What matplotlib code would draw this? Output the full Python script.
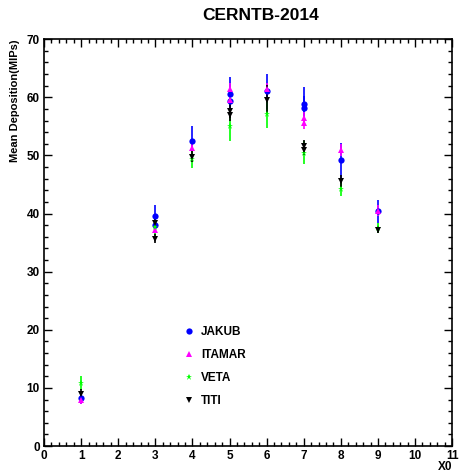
import matplotlib.pyplot as plt
from matplotlib.lines import Line2D
from matplotlib.ticker import MultipleLocator

plt.rcParams['font.family'] = ['Liberation Sans', 'DejaVu Sans']
plt.rcParams['font.weight'] = 'bold'

jakub_x = [1, 3, 3, 4, 5, 5, 6, 7, 7, 8, 9]
jakub_y = [8.2, 39.5, 38.1, 52.5, 60.5, 59.3, 61.0, 58.8, 58.2, 49.2, 40.4]
jakub_e = [1.0, 2.0, 1.0, 2.5, 3.0, 2.0, 3.0, 3.0, 2.0, 3.0, 2.0]

itamar_x = [1, 3, 4, 5, 5, 6, 7, 7, 8, 9]
itamar_y = [8.0, 37.2, 51.2, 61.5, 59.6, 61.4, 56.4, 55.6, 50.9, 40.5]
itamar_e = [0.8, 1.0, 1.0, 1.0, 1.0, 1.0, 1.0, 1.0, 1.0, 1.0]

veta_x = [1, 3, 4, 5, 6, 7, 8, 9]
veta_y = [10.9, 37.6, 49.4, 55.1, 57.1, 50.5, 44.2, 37.5]
veta_e = [1.2, 1.5, 1.5, 2.6, 2.4, 2.0, 1.2, 0.8]

titi_x = [1, 3, 3, 4, 5, 5, 6, 7, 7, 8, 9]
titi_y = [9.0, 38.3, 35.7, 49.8, 57.6, 57.0, 59.6, 51.6, 51.0, 45.6, 37.2]
titi_e = [0.8, 1.0, 0.8, 1.0, 1.2, 1.0, 2.5, 1.0, 1.0, 1.0, 0.6]

series = [
    ("JAKUB", jakub_x, jakub_y, jakub_e, "#0000ff", "o", 4.5),
    ("ITAMAR", itamar_x, itamar_y, itamar_e, "#ff00ff", "^", 4.5),
    ("VETA", veta_x, veta_y, veta_e, "#00ff00", "*", 5),
    ("TITI", titi_x, titi_y, titi_e, "#000000", "v", 4.5),
]

fig = plt.figure(figsize=(4.59, 4.72), dpi=100)
ax = fig.add_axes((0.096, 0.055, 0.889, 0.862))

handles = []
for name, xs, ys, es, col, mk, ms in series:
    ax.errorbar(xs, ys, yerr=es, fmt=mk, color=col, ecolor=col, elinewidth=1.2,
                capsize=0, markersize=ms, markeredgewidth=0)
    handles.append(Line2D([], [], linestyle='none', marker=mk, color=col,
                          markersize=ms, markeredgewidth=0, label=name))

ax.set_xlim(0, 11)
ax.set_ylim(0, 70)
ax.xaxis.set_major_locator(MultipleLocator(1))
ax.xaxis.set_minor_locator(MultipleLocator(0.2))
ax.yaxis.set_major_locator(MultipleLocator(10))
ax.yaxis.set_minor_locator(MultipleLocator(2))
ax.tick_params(which='both', direction='in', top=True, right=True, labelsize=8.5, pad=3)
ax.tick_params(which='major', length=6, width=1)
ax.tick_params(which='minor', length=3, width=1)
for lbl in ax.get_xticklabels() + ax.get_yticklabels():
    lbl.set_fontweight('bold')
for sp in ax.spines.values():
    sp.set_linewidth(1.2)

ax.set_title("CERNTB-2014", fontsize=12.5, fontweight='bold', pad=14, x=0.53)
ax.set_ylabel("Mean Deposition(MIPs)", fontsize=8, fontweight='bold', loc='top', labelpad=5)
ax.set_xlabel("X0", fontsize=8.5, fontweight='bold', loc='right', labelpad=-1)

ax.legend(handles=handles, loc='upper left', bbox_to_anchor=(0.315, 0.322), frameon=False,
          handletextpad=0.5, labelspacing=0.95, handlelength=1.0,
          prop={'weight': 'bold', 'size': 8.5})

fig.savefig("out.png", dpi=100)
